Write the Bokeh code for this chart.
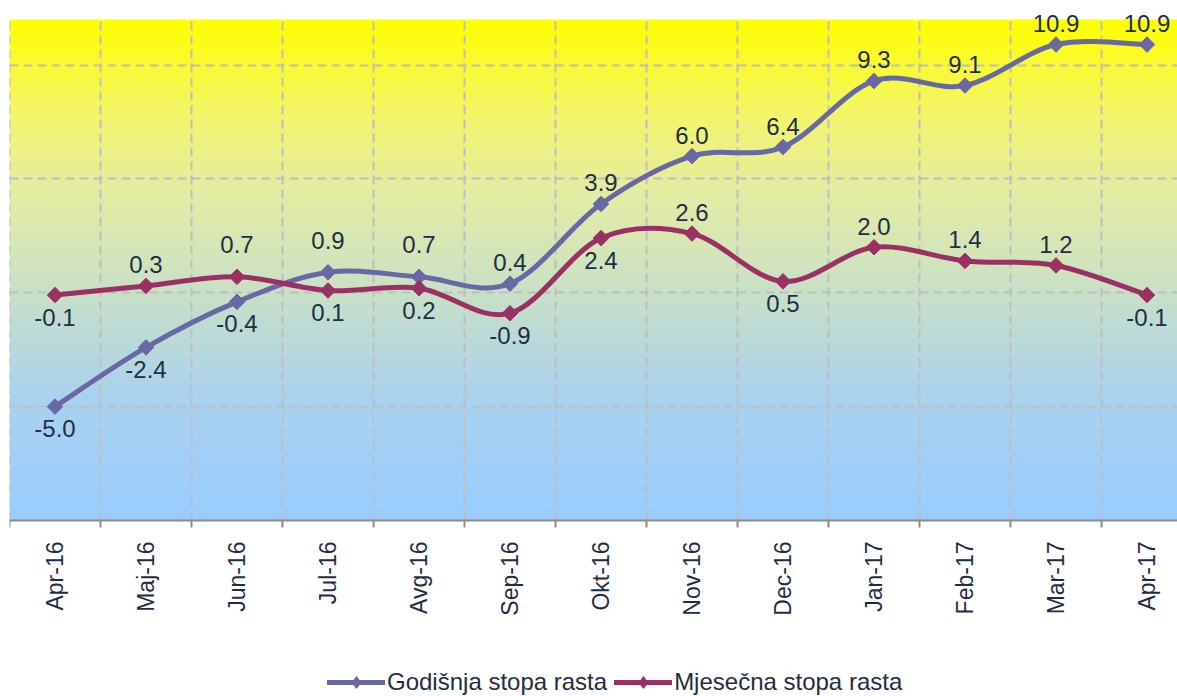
import numpy as np
from bokeh.plotting import figure
from bokeh.models import FixedTicker, Range1d, Legend, LegendItem
from bokeh.core.properties import value
from bokeh.embed import file_html
from bokeh.resources import INLINE

# ---------------- data ----------------
months = ["Apr-16", "Maj-16", "Jun-16", "Jul-16", "Avg-16", "Sep-16", "Okt-16",
          "Nov-16", "Dec-16", "Jan-17", "Feb-17", "Mar-17", "Apr-17"]
godisnja = [-5.0, -2.4, -0.4, 0.9, 0.7, 0.4, 3.9, 6.0, 6.4, 9.3, 9.1, 10.9, 10.9]
mjesecna = [-0.1, 0.3, 0.7, 0.1, 0.2, -0.9, 2.4, 2.6, 0.5, 2.0, 1.4, 1.2, -0.1]
series_names = ["Godišnja stopa rasta", "Mjesečna stopa rasta"]
y_min, y_max = -10, 12
y_grid = [-5, 0, 5, 10]

# label placement codes (style): a = above, A = further above, b = below
god_label_pos = ["b", "b", "b", "A", "A", "a", "a", "a", "a", "a", "a", "a", "a"]
mje_label_pos = ["b", "a", "A", "b", "b", "b", "b", "a", "b", "a", "a", "a", "b"]

# ---------------- style ----------------
FONT = "Liberation Sans"
TXT = "#1F2E45"
C_GOD = "#6868A4"
C_MJE = "#9B3163"
GRID = "#BEBEBE"
AXIS = "#8C8C8C"
OFFS = {"a": -21, "A": -32, "b": 22}
grad_stops = [(0.0, "#99CCFF"), (0.25, "#AAD2EE"), (0.45, "#C8E0C8"),
              (0.65, "#E4ECA4"), (0.8, "#F2F470"), (1.0, "#FFFF00")]

# layout in px: plot area 1168 x 501 starting 19px from top, page 696 tall
PLOT_W, PLOT_H, TOP_PAD, PAGE_H, LEFT = 1168, 501, 19, 696, 9
BOTTOM_PAD = PAGE_H - TOP_PAD - PLOT_H
CAT_PX = 91.0
ppu = PLOT_H / (y_max - y_min)
x = np.arange(len(months), dtype=float)

p = figure(frame_width=PLOT_W, frame_height=PAGE_H, output_backend="svg",
           toolbar_location=None,
           x_range=Range1d(-0.5, -0.5 + PLOT_W / CAT_PX),
           y_range=Range1d(y_min - BOTTOM_PAD / ppu, y_max + TOP_PAD / ppu),
           y_axis_location=None, min_border_left=LEFT, min_border_right=0,
           min_border_top=0, min_border_bottom=0)
p.outline_line_color = None
p.background_fill_color = "white"
p.border_fill_color = "white"


def hex2rgb(h):
    h = h.lstrip("#")
    return [int(h[i:i + 2], 16) for i in (0, 2, 4)]


# gradient background
N = 512
t = np.linspace(0, 1, N)
sp = [s for s, _ in grad_stops]
cols = np.array([hex2rgb(c) for _, c in grad_stops], dtype=float)
img = np.zeros((N, 1), dtype=np.uint32)
view = img.view(dtype=np.uint8).reshape((N, 1, 4))
for k in range(3):
    view[:, 0, k] = np.round(np.interp(t, sp, cols[:, k])).astype(np.uint8)
view[:, 0, 3] = 255
bg = p.image_rgba(image=[img], x=-0.5, y=y_min, dw=len(months) + 1, dh=y_max - y_min)
bg.level = "image"

# grids: vertical lines at category boundaries, only inside the plot area
bounds = list(np.arange(-0.5, len(months) + 0.5, 1.0))
p.xgrid.visible = False
p.segment(x0=bounds, y0=[y_min] * len(bounds), x1=bounds, y1=[y_max] * len(bounds),
          line_color=GRID, line_width=2, line_dash="9 5")
p.ygrid.ticker = FixedTicker(ticks=y_grid)
p.ygrid.grid_line_color = GRID
p.ygrid.grid_line_width = 2
p.ygrid.grid_line_dash = "9 5"

# x axis, drawn at y_min
ax = p.xaxis[0]
ax.fixed_location = y_min
ax.ticker = FixedTicker(ticks=list(x), minor_ticks=bounds)
ax.major_label_overrides = {int(i): m for i, m in enumerate(months)}
ax.major_tick_out = 0
ax.major_tick_in = 0
ax.minor_tick_out = 7
ax.minor_tick_in = 0
ax.minor_tick_line_color = AXIS
ax.minor_tick_line_width = 2
ax.axis_line_color = AXIS
ax.axis_line_width = 2
ax.major_label_orientation = np.pi / 2
ax.major_label_standoff = 14
ax.major_label_text_font = FONT
ax.major_label_text_font_size = "23px"
ax.major_label_text_color = TXT


def smooth_segments(xs, ys):
    P = np.column_stack([xs, ys]).astype(float)
    n = len(P)
    out = {k: [] for k in ("x0", "y0", "x1", "y1", "cx0", "cy0", "cx1", "cy1")}
    for i in range(n - 1):
        p0 = P[i - 1] if i > 0 else P[i]
        p1, p2 = P[i], P[i + 1]
        p3 = P[i + 2] if i + 2 < n else P[i + 1]
        c1 = p1 + (p2 - p0) / 6.0
        c2 = p2 - (p3 - p1) / 6.0
        out["x0"].append(p1[0]); out["y0"].append(p1[1])
        out["x1"].append(p2[0]); out["y1"].append(p2[1])
        out["cx0"].append(c1[0]); out["cy0"].append(c1[1])
        out["cx1"].append(c2[0]); out["cy1"].append(c2[1])
    return out


items = []
for vals, pos, col, name in ((godisnja, god_label_pos, C_GOD, series_names[0]),
                             (mjesecna, mje_label_pos, C_MJE, series_names[1])):
    seg = smooth_segments(x, vals)
    r_line = p.bezier(line_color=col, line_width=5, line_cap="round", **seg)
    p.scatter(x, vals, marker="square", angle=np.pi / 4, size=11,
              fill_color=col, line_color=col)
    p.text(x=list(x), y=vals, text=[f"{v:.1f}" for v in vals],
           y_offset=[OFFS[c] for c in pos],
           text_align="center", text_baseline="middle",
           text_font=value(FONT), text_font_size="24px", text_color=TXT)
    # hidden diamond renderer, used only for the legend key
    r_key = p.scatter(x, vals, marker="diamond", fill_color=col,
                      line_color=col, line_width=1.5, visible=False)
    items.append(LegendItem(label=name, renderers=[r_line, r_key]))

legend = Legend(items=items, location=(327 - LEFT, 0), orientation="horizontal",
                label_text_font=FONT, label_text_font_size="24px",
                label_text_color=TXT, glyph_width=58, glyph_height=28,
                label_standoff=2, spacing=7, padding=0, margin=0,
                border_line_color=None, background_fill_alpha=0)
p.add_layout(legend, "center")

open("out.html", "w").write(file_html(p, INLINE))
